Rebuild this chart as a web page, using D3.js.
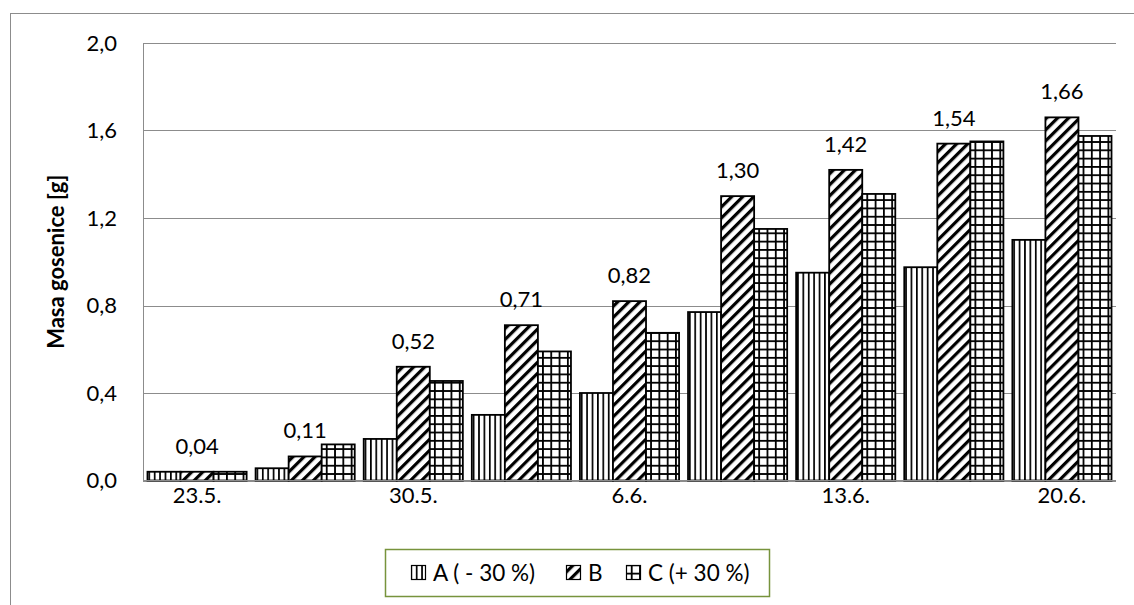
<!DOCTYPE html>
<html>
<head>
<meta charset="utf-8">
<script src="https://cdn.jsdelivr.net/npm/d3@7"></script>
<style>
  html, body { margin: 0; padding: 0; background: #fff; }
  svg { display: block; }
  text { font-family: Lato, "Open Sans", sans-serif; fill: #000; }
</style>
</head>
<body>
<svg id="chart" width="1134" height="605"></svg>
<script>
// Caterpillar mass per sampling date for three feeding variants
const dateLabels = ["23.5.", "", "30.5.", "", "6.6.", "", "13.6.", "", "20.6."];
const seriesNames = ["A ( - 30 %)", "B", "C (+ 30 %)"];
const valuesA = [0.04, 0.056, 0.19, 0.30, 0.40, 0.77, 0.95, 0.975, 1.10];
const valuesB = [0.04, 0.11, 0.52, 0.71, 0.82, 1.30, 1.42, 1.54, 1.66];
const valuesC = [0.04, 0.165, 0.455, 0.59, 0.675, 1.15, 1.31, 1.55, 1.575];
const yTicks = [0, 0.4, 0.8, 1.2, 1.6, 2.0];
const yTitle = "Masa gosenice [g]";

const series = [valuesA, valuesB, valuesC];
const patternIds = ["pat-vert", "pat-diag", "pat-grid"];

const svg = d3.select("#chart");
const locale = d3.formatLocale({ decimal: ",", thousands: ".", grouping: [3], currency: ["", ""] });
const fmtTick = locale.format(".1f");
const fmtVal = locale.format(".2f");

const plot = { left: 143, top: 43, right: 1116, bottom: 480.5 };

// Fill patterns
const defs = svg.append("defs");
const pv = defs.append("pattern").attr("id", "pat-vert").attr("patternUnits", "userSpaceOnUse")
  .attr("width", 5.4).attr("height", 10);
pv.append("rect").attr("width", 5.4).attr("height", 10).attr("fill", "#fff");
pv.append("rect").attr("x", 0).attr("width", 1.7).attr("height", 10).attr("fill", "#000");

const pd = defs.append("pattern").attr("id", "pat-diag").attr("patternUnits", "userSpaceOnUse")
  .attr("width", 7.8).attr("height", 10).attr("patternTransform", "rotate(45)");
pd.append("rect").attr("width", 7.8).attr("height", 10).attr("fill", "#fff");
pd.append("rect").attr("x", 0).attr("width", 3.2).attr("height", 10).attr("fill", "#000");

const pg = defs.append("pattern").attr("id", "pat-grid").attr("patternUnits", "userSpaceOnUse")
  .attr("width", 8.3).attr("height", 8.3);
pg.append("rect").attr("width", 8.3).attr("height", 8.3).attr("fill", "#fff");
pg.append("rect").attr("width", 1.8).attr("height", 8.3).attr("fill", "#000");
pg.append("rect").attr("width", 8.3).attr("height", 1.8).attr("fill", "#000");

// Outer chart frame
svg.append("rect").attr("x", 10.5).attr("y", 13.5).attr("width", 1200).attr("height", 700)
  .attr("fill", "none").attr("stroke", "#8c8c8c").attr("stroke-width", 1);

// Scales
const x0 = d3.scaleBand().domain(d3.range(dateLabels.length)).range([plot.left, plot.right]).padding(0);
const gap = x0.bandwidth() * 0.0415;
const x1 = d3.scaleBand().domain(d3.range(series.length)).range([gap, x0.bandwidth() - gap]).padding(0);
const y = d3.scaleLinear().domain([0, 2]).range([plot.bottom, plot.top]);

// Gridlines
svg.append("g").selectAll("line").data(yTicks).join("line")
  .attr("x1", plot.left).attr("x2", plot.right)
  .attr("y1", d => Math.round(y(d)) + 0.5).attr("y2", d => Math.round(y(d)) + 0.5)
  .attr("stroke", "#8c8c8c").attr("stroke-width", 1);

// Y axis line
svg.append("line").attr("x1", plot.left + 0.5).attr("x2", plot.left + 0.5)
  .attr("y1", plot.top).attr("y2", plot.bottom).attr("stroke", "#8c8c8c");

// Y tick labels
svg.append("g").selectAll("text").data(yTicks).join("text")
  .attr("x", 117).attr("y", d => y(d)).attr("dy", "0.36em")
  .attr("text-anchor", "end").attr("font-size", 22).text(d => fmtTick(d));

// Y title
svg.append("text").attr("transform", `translate(64,${(plot.top + plot.bottom) / 2}) rotate(-90)`)
  .attr("text-anchor", "middle").attr("font-size", 22).attr("font-weight", "bold").text(yTitle);

// Bars
const groups = svg.append("g").selectAll("g").data(dateLabels.map((d, i) => i)).join("g")
  .attr("transform", i => `translate(${x0(i)},0)`);
groups.selectAll("rect").data(i => series.map((s, k) => ({ k, v: s[i] }))).join("rect")
  .attr("x", d => x1(d.k)).attr("width", x1.bandwidth())
  .attr("y", d => y(d.v)).attr("height", d => y(0) - y(d.v))
  .attr("fill", d => `url(#${patternIds[d.k]})`)
  .attr("stroke", "#000").attr("stroke-width", 1.8);

// Value labels above the B bars
svg.append("g").selectAll("text").data(valuesB).join("text")
  .attr("x", (d, i) => x0(i) + x1(1) + x1.bandwidth() / 2)
  .attr("y", d => y(d) - 18)
  .attr("text-anchor", "middle").attr("font-size", 22).text(d => fmtVal(d));

// X axis line
svg.append("line").attr("x1", plot.left).attr("x2", plot.right)
  .attr("y1", plot.bottom).attr("y2", plot.bottom).attr("stroke", "#8c8c8c");

// X labels
svg.append("g").selectAll("text").data(dateLabels).join("text")
  .attr("x", (d, i) => x0(i) + x0.bandwidth() / 2).attr("y", 503)
  .attr("text-anchor", "middle").attr("font-size", 22).text(d => d);

// Legend
const legend = svg.append("g");
legend.append("rect").attr("x", 385.5).attr("y", 549.5).attr("width", 384).attr("height", 47)
  .attr("fill", "#fff").attr("stroke", "#77933c").attr("stroke-width", 1.5);
const legendPos = [{ sx: 411, tx: 433 }, { sx: 566, tx: 588 }, { sx: 626, tx: 648 }];
seriesNames.forEach((name, k) => {
  legend.append("rect").attr("x", legendPos[k].sx + 0.5).attr("y", 565.5).attr("width", 14).attr("height", 14)
    .attr("fill", `url(#${patternIds[k]})`).attr("stroke", "#000").attr("stroke-width", 1.2);
  legend.append("text").attr("x", legendPos[k].tx).attr("y", 580.5)
    .attr("font-size", 22.5).text(name);
});
</script>
</body>
</html>
